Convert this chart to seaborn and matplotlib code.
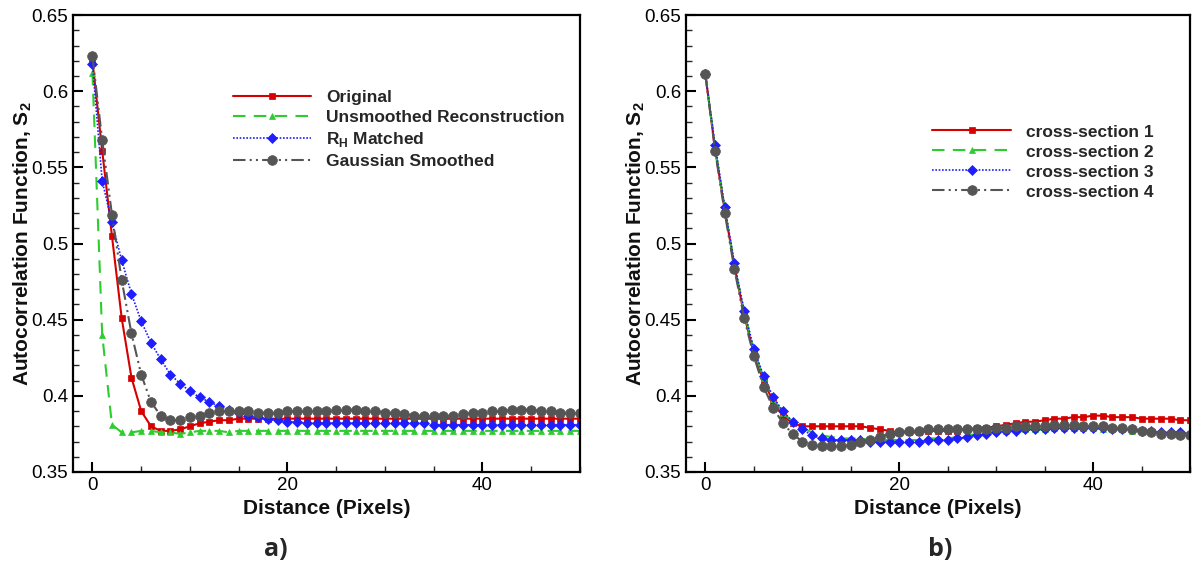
import numpy as np
import pandas as pd
import matplotlib
matplotlib.use("Agg")
import matplotlib.pyplot as plt
import seaborn as sns
from matplotlib.ticker import MultipleLocator

sns.set_theme(style="white")
plt.rcParams['font.family'] = ['Liberation Sans', 'DejaVu Sans']
plt.rcParams['mathtext.fontset'] = 'custom'
plt.rcParams['mathtext.rm'] = 'Liberation Sans'
plt.rcParams['mathtext.bf'] = 'Liberation Sans:bold'

distance = list(range(51))

# Panel a)
original = [0.620, 0.561, 0.505, 0.451, 0.412, 0.390, 0.380, 0.377, 0.377, 0.378,
            0.380, 0.382, 0.383, 0.384, 0.384, 0.385, 0.385, 0.385, 0.385, 0.385,
            0.385, 0.385, 0.385, 0.385, 0.385, 0.385, 0.385, 0.385, 0.385, 0.385,
            0.385, 0.385, 0.385, 0.385, 0.385, 0.385, 0.385, 0.385, 0.385, 0.385,
            0.385, 0.385, 0.385, 0.385, 0.385, 0.385, 0.385, 0.385, 0.385, 0.385, 0.385]
unsmoothed = [0.612, 0.440, 0.381, 0.376, 0.376, 0.377, 0.377, 0.376, 0.376, 0.375,
              0.376, 0.377, 0.377, 0.377, 0.376, 0.377, 0.377, 0.377, 0.377, 0.377,
              0.377, 0.377, 0.377, 0.377, 0.377, 0.377, 0.377, 0.377, 0.377, 0.377,
              0.377, 0.377, 0.377, 0.377, 0.377, 0.377, 0.377, 0.377, 0.377, 0.377,
              0.377, 0.377, 0.377, 0.377, 0.377, 0.377, 0.377, 0.377, 0.377, 0.377, 0.377]
rh_matched = [0.618, 0.541, 0.514, 0.489, 0.467, 0.449, 0.435, 0.424, 0.414, 0.408,
              0.403, 0.399, 0.396, 0.393, 0.391, 0.389, 0.387, 0.386, 0.385, 0.384,
              0.383, 0.383, 0.382, 0.382, 0.382, 0.382, 0.382, 0.382, 0.382, 0.382,
              0.382, 0.382, 0.382, 0.382, 0.382, 0.381, 0.381, 0.381, 0.381, 0.381,
              0.381, 0.381, 0.381, 0.381, 0.381, 0.381, 0.381, 0.381, 0.381, 0.381, 0.381]
gaussian = [0.623, 0.568, 0.519, 0.476, 0.441, 0.414, 0.396, 0.387, 0.384, 0.384,
            0.386, 0.387, 0.389, 0.390, 0.390, 0.390, 0.390, 0.389, 0.389, 0.389,
            0.390, 0.390, 0.390, 0.390, 0.390, 0.391, 0.391, 0.391, 0.390, 0.390,
            0.389, 0.389, 0.388, 0.387, 0.387, 0.387, 0.387, 0.387, 0.388, 0.389,
            0.389, 0.390, 0.390, 0.391, 0.391, 0.391, 0.390, 0.390, 0.389, 0.389, 0.389]

# Panel b)
cs1 = [0.611, 0.562, 0.522, 0.485, 0.453, 0.428, 0.410, 0.396, 0.387, 0.382,
       0.380, 0.380, 0.380, 0.380, 0.380, 0.380, 0.380, 0.379, 0.378, 0.377,
       0.376, 0.376, 0.376, 0.377, 0.377, 0.377, 0.377, 0.378, 0.379, 0.379,
       0.380, 0.381, 0.382, 0.383, 0.383, 0.384, 0.385, 0.385, 0.386, 0.386,
       0.387, 0.387, 0.386, 0.386, 0.386, 0.385, 0.385, 0.385, 0.385, 0.384, 0.384]
cs2 = [0.611, 0.563, 0.523, 0.486, 0.455, 0.430, 0.412, 0.398, 0.389, 0.383,
       0.379, 0.376, 0.374, 0.373, 0.372, 0.372, 0.372, 0.371, 0.371, 0.371,
       0.371, 0.371, 0.371, 0.372, 0.372, 0.372, 0.373, 0.374, 0.375, 0.376,
       0.377, 0.377, 0.378, 0.378, 0.378, 0.378, 0.379, 0.379, 0.379, 0.379,
       0.379, 0.378, 0.378, 0.378, 0.377, 0.377, 0.376, 0.376, 0.376, 0.375, 0.375]
cs3 = [0.611, 0.565, 0.524, 0.487, 0.456, 0.431, 0.413, 0.399, 0.390, 0.383,
       0.378, 0.374, 0.372, 0.371, 0.371, 0.371, 0.371, 0.370, 0.370, 0.370,
       0.370, 0.370, 0.370, 0.371, 0.371, 0.371, 0.372, 0.373, 0.374, 0.375,
       0.376, 0.377, 0.377, 0.378, 0.378, 0.378, 0.379, 0.379, 0.379, 0.379,
       0.379, 0.379, 0.378, 0.378, 0.378, 0.377, 0.377, 0.376, 0.376, 0.376, 0.375]
cs4 = [0.611, 0.561, 0.520, 0.483, 0.451, 0.426, 0.406, 0.392, 0.382, 0.375,
       0.370, 0.368, 0.367, 0.367, 0.367, 0.368, 0.370, 0.371, 0.373, 0.375,
       0.376, 0.377, 0.377, 0.378, 0.378, 0.378, 0.378, 0.378, 0.378, 0.378,
       0.379, 0.379, 0.380, 0.380, 0.380, 0.380, 0.381, 0.381, 0.381, 0.380,
       0.380, 0.380, 0.379, 0.379, 0.378, 0.377, 0.376, 0.375, 0.375, 0.374, 0.374]

labels_a = ["Original", "Unsmoothed Reconstruction", r"R$_\mathbf{H}$ Matched", "Gaussian Smoothed"]
labels_b = ["cross-section 1", "cross-section 2", "cross-section 3", "cross-section 4"]

RED = "#d60000"
GREEN = "#2ecc2e"
BLUE = "#1e1eff"
GRAY = "#555555"

styles = [
    dict(color=RED, linestyle="-", marker="s", markersize=5, lw=1.5),
    dict(color=GREEN, linestyle=(0, (6, 4)), marker="^", markersize=5, lw=1.5),
    dict(color=BLUE, linestyle=(0, (1, 1)), marker="D", markersize=5, lw=1.2),
    dict(color=GRAY, linestyle=(0, (6, 2, 1, 2, 1, 2)), marker="o", markersize=7, lw=1.5),
]

fig = plt.figure(figsize=(11.92, 5.69), dpi=100)
axA = fig.add_axes([0.0612, 0.1705, 0.4253, 0.803])
axB = fig.add_axes([0.5755, 0.1705, 0.4228, 0.803])

def draw(ax, series, labels):
    for s, lab, st in zip(series, labels, styles):
        df = pd.DataFrame({"x": distance, "y": s})
        sns.lineplot(data=df, x="x", y="y", ax=ax, label=lab,
                     color=st["color"], linestyle=st["linestyle"], lw=st["lw"],
                     marker=st["marker"], markersize=st["markersize"],
                     markeredgecolor=st["color"], markerfacecolor=st["color"],
                     markeredgewidth=0.5)
    ax.set_xlim(-2, 50)
    ax.set_ylim(0.35, 0.65)
    ax.xaxis.set_major_locator(MultipleLocator(20))
    ax.xaxis.set_minor_locator(MultipleLocator(5))
    ax.yaxis.set_major_locator(MultipleLocator(0.05))
    ax.yaxis.set_minor_locator(MultipleLocator(0.01))
    ax.set_yticks([0.35, 0.4, 0.45, 0.5, 0.55, 0.6, 0.65])
    ax.set_yticklabels(["0.35", "0.4", "0.45", "0.5", "0.55", "0.6", "0.65"])
    ax.tick_params(which="major", direction="in", length=7, width=1.5,
                   labelsize=13.5, colors="black", top=False, right=False, bottom=True, left=True)
    ax.tick_params(which="minor", direction="in", length=4, width=1,
                   top=False, right=False, bottom=True, left=True)
    for sp in ax.spines.values():
        sp.set_linewidth(1.6)
        sp.set_color("black")
    ax.set_xlabel("Distance (Pixels)", fontsize=15, fontweight="bold", color="#111111")
    ax.set_ylabel(r"Autocorrelation Function, S$_\mathbf{2}$", fontsize=15,
                  fontweight="bold", color="#111111", labelpad=-2)

draw(axA, [original, unsmoothed, rh_matched, gaussian], labels_a)
draw(axB, [cs1, cs2, cs3, cs4], labels_b)

legA = axA.legend(loc="upper left", bbox_to_anchor=(0.284, 0.87), frameon=False,
                  prop={"weight": "bold", "size": 12.5}, handlelength=4.5,
                  labelspacing=0.28, handletextpad=0.9)
legB = axB.legend(loc="upper left", bbox_to_anchor=(0.458, 0.795), frameon=False,
                  prop={"weight": "bold", "size": 12.5}, handlelength=4.5,
                  labelspacing=0.28, handletextpad=0.9)

fig.text(0.231, 0.035, "a)", fontsize=18, fontweight="bold", family=["Open Sans", "DejaVu Sans"],
         ha="center", va="center")
fig.text(0.789, 0.035, "b)", fontsize=18, fontweight="bold", family=["Open Sans", "DejaVu Sans"],
         ha="center", va="center")

fig.savefig("out.png", dpi=100)
